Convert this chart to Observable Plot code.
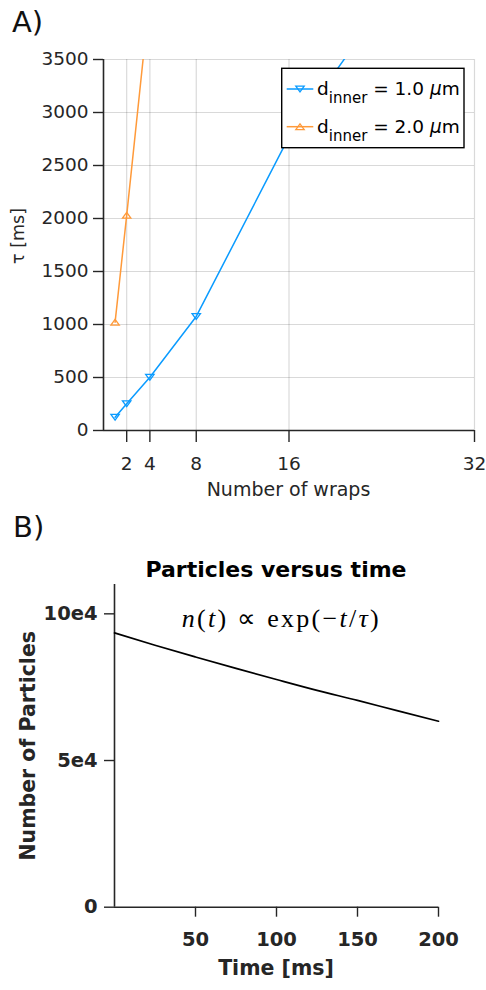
<!DOCTYPE html>
<html><head><meta charset="utf-8">
<script src="https://cdn.jsdelivr.net/npm/d3@7"></script>
<script src="https://cdn.jsdelivr.net/npm/@observablehq/plot@0.6"></script>
<style>
html,body{margin:0;padding:0;background:#fff;}
#wrap{position:relative;width:486px;height:990px;overflow:hidden;background:#fff;}
#wrap svg{position:absolute;left:0;overflow:visible;}
text{white-space:pre;}
</style></head><body><div id="wrap"></div>
<script>
// ---------- Panel A data ----------
const wraps = [1, 2, 4, 8, 16, 32];
const tauInner1 = [125, 252, 503, 1076, 2770, 5230];
const wrapsInner2 = [1, 2, 4];
const tauInner2 = [1022, 2030, 4110];
const seriesLabels = ["1.0", "2.0"];
const xTicksA = [2, 4, 8, 16, 32];
const yTicksA = [0, 500, 1000, 1500, 2000, 2500, 3000, 3500];

// ---------- Panel B data ----------
const timeMs = [0, 25, 50, 75, 100, 125, 150, 175, 200];
const particles = [93500, 89300, 85300, 81400, 77600, 73900, 70500, 66900, 63400];
const xTicksB = [50, 100, 150, 200];
const yTicksB = [0, 50000, 100000];
const yTickLabelsB = ["0", "5e4", "10e4"];

const blue = "#0a9bff", orange = "#ff9a3a", axisColor = "#262626";
const sans = "'DejaVu Sans', sans-serif";

const triDown = {draw(ctx, size){const r = Math.sqrt(size/Math.PI); const w = r*1.05, h = r*0.72;
  ctx.moveTo(-w, -h); ctx.lineTo(w, -h); ctx.lineTo(0, h); ctx.closePath();}};
const triUp = {draw(ctx, size){const r = Math.sqrt(size/Math.PI); const w = r*1.05, h = r*0.72;
  ctx.moveTo(-w, h); ctx.lineTo(w, h); ctx.lineTo(0, -h); ctx.closePath();}};

const dataA1 = wraps.map((x, i) => ({x, y: tauInner1[i]}));
const dataA2 = wrapsInner2.map((x, i) => ({x, y: tauInner2[i]}));
const dataB = timeMs.map((t, i) => ({t, n: particles[i]}));

const wrap = document.getElementById("wrap");

// ---------- Panel A ----------
const plotA = Plot.plot({
  width: 486, height: 505,
  marginTop: 59, marginRight: 12, marginBottom: 75, marginLeft: 103,
  style: {fontFamily: sans, fontSize: "18.5px", color: axisColor, background: "transparent"},
  x: {domain: [0, 32]},
  y: {domain: [0, 3500]},
  marks: [
    Plot.gridX(xTicksA, {stroke: "#000", strokeOpacity: 0.15, strokeWidth: 1.2}),
    Plot.gridY(yTicksA.slice(1), {stroke: "#000", strokeOpacity: 0.15, strokeWidth: 1.2}),
    Plot.axisX(xTicksA, {tickSize: 12, tickPadding: 14, label: null, strokeWidth: 1.4, tickFormat: d => String(d)}),
    Plot.axisY(yTicksA, {tickSize: 10, tickPadding: 5, label: null, strokeWidth: 1.4, tickFormat: d => String(d)}),
    Plot.ruleX([0], {stroke: axisColor, strokeWidth: 1.6}),
    Plot.ruleY([0], {stroke: axisColor, strokeWidth: 1.6}),
    Plot.line(dataA1, {x: "x", y: "y", stroke: blue, strokeWidth: 1.5, clip: true}),
    Plot.dot(dataA1, {x: "x", y: "y", symbol: triDown, r: 4, stroke: blue, fill: "none", strokeWidth: 1.3, clip: true}),
    Plot.line(dataA2, {x: "x", y: "y", stroke: orange, strokeWidth: 1.5, clip: true}),
    Plot.dot(dataA2, {x: "x", y: "y", symbol: triUp, r: 4, stroke: orange, fill: "none", strokeWidth: 1.3, clip: true})
  ]
});
plotA.style.top = "0px";
wrap.appendChild(plotA);

const sA = d3.select(plotA);
sA.append("text").attr("x", 12).attr("y", 32).attr("text-anchor", "start").attr("font-size", 29).attr("fill", "#111").text("A)");
sA.append("text").attr("x", 288.5).attr("y", 496).attr("text-anchor", "middle").attr("font-size", 19).attr("fill", axisColor).text("Number of wraps");
sA.append("text").attr("transform", "translate(24,236) rotate(-90)").attr("text-anchor", "middle").attr("font-size", 17.5).attr("fill", axisColor).text("τ [ms]");

// legend
const lg = sA.append("g");
lg.append("rect").attr("x", 281.7).attr("y", 68.3).attr("width", 182.3).attr("height", 79.4)
  .attr("fill", "#fff").attr("stroke", "#000").attr("stroke-width", 1.4);
[[blue, triDown, 89, 95], [orange, triUp, 126.7, 133]].forEach(([c, sym, ly, by], i) => {
  lg.append("line").attr("x1", 286.7).attr("x2", 313.3).attr("y1", ly).attr("y2", ly).attr("stroke", c).attr("stroke-width", 1.5);
  lg.append("path").attr("d", d3.symbol(sym, Math.PI * 16)()).attr("transform", `translate(300,${ly})`)
    .attr("fill", "none").attr("stroke", c).attr("stroke-width", 1.3);
  const t = lg.append("text").attr("x", 317).attr("y", by).attr("text-anchor", "start").attr("font-size", 18.5).attr("fill", "#000");
  t.append("tspan").text("d");
  t.append("tspan").attr("dy", 8).attr("font-size", 15).text("inner");
  t.append("tspan").attr("dy", -8).text(" = " + seriesLabels[i] + " ");
  t.append("tspan").attr("font-style", "italic").text("μ");
  t.append("tspan").text("m");
});

// ---------- Panel B ----------
const plotB = Plot.plot({
  width: 486, height: 495,
  marginTop: 89, marginRight: 48, marginBottom: 83.3, marginLeft: 114,
  style: {fontFamily: sans, fontSize: "19.5px", fontWeight: "bold", color: axisColor, background: "transparent"},
  x: {domain: [0, 200]},
  y: {domain: [0, 110000]},
  marks: [
    Plot.axisX(xTicksB, {tickSize: 10, tickPadding: 15, label: null, strokeWidth: 1.4, tickFormat: d => String(d)}),
    Plot.axisY(yTicksB, {tickSize: 10, tickPadding: 7, label: null, strokeWidth: 1.4,
      tickFormat: d => yTickLabelsB[yTicksB.indexOf(d)]}),
    Plot.ruleX([0], {stroke: axisColor, strokeWidth: 1.6}),
    Plot.ruleY([0], {stroke: axisColor, strokeWidth: 1.6}),
    Plot.line(dataB, {x: "t", y: "n", stroke: "#000", strokeWidth: 1.7, curve: "monotone-x"})
  ]
});
plotB.style.top = "495px";
wrap.appendChild(plotB);

const sB = d3.select(plotB);
sB.append("text").attr("x", 13).attr("y", 41.7).attr("text-anchor", "start").attr("font-size", 29).attr("font-weight", "normal").attr("fill", "#111").text("B)");
sB.append("text").attr("x", 276).attr("y", 81.7).attr("text-anchor", "middle").attr("font-size", 22).attr("fill", "#000").text("Particles versus time");
sB.append("text").attr("x", 276).attr("y", 480).attr("text-anchor", "middle").attr("font-size", 20.5).attr("fill", axisColor).text("Time [ms]");
sB.append("text").attr("transform", "translate(35,250.8) rotate(-90)").attr("text-anchor", "middle").attr("font-size", 20.5).attr("fill", axisColor).text("Number of Particles");

// equation
const eq = sB.append("text").attr("x", 181.7).attr("y", 131.7).attr("text-anchor", "start")
  .attr("font-family", "'Liberation Serif', serif")
  .attr("font-weight", "normal").attr("font-size", 26).attr("fill", "#000")
  .attr("textLength", 197).attr("lengthAdjust", "spacing");
const parts = [["n", true], ["(", false], ["t", true], [") ∝ exp(−", false], ["t", true], ["/", false], ["τ", true], [")", false]];
parts.forEach(([s, it]) => eq.append("tspan").attr("font-style", it ? "italic" : "normal").text(s));
</script></body></html>
